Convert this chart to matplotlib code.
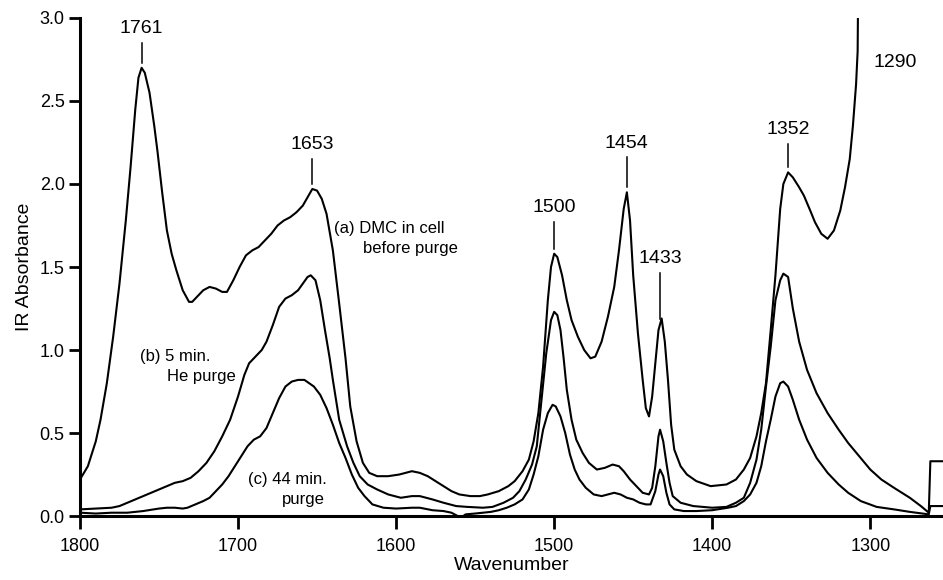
import numpy as np
import matplotlib
matplotlib.use('Agg')
import matplotlib.pyplot as plt

plt.rcParams['font.family'] = ['Liberation Sans', 'DejaVu Sans']

# (a) DMC in cell before purge
wn_a = [1800, 1795, 1790, 1787, 1783, 1779, 1775, 1771, 1768, 1765, 1763, 1761,
        1759, 1756, 1753, 1751, 1748, 1745, 1742, 1739, 1735, 1731, 1729, 1726,
        1722, 1718, 1714, 1710, 1707, 1703, 1699, 1695, 1691, 1687, 1683, 1679,
        1675, 1671, 1667, 1663, 1659, 1656, 1653, 1650, 1647, 1644, 1640, 1636,
        1632, 1629, 1625, 1621, 1617, 1612, 1605, 1598, 1590, 1585, 1580, 1575,
        1570, 1565, 1560, 1553, 1547, 1542, 1535, 1529, 1525, 1520, 1516, 1513,
        1510, 1507, 1504, 1502, 1500, 1498, 1495, 1492, 1489, 1485, 1481, 1477,
        1474, 1470, 1466, 1462, 1459, 1456, 1454, 1452, 1450, 1447, 1444, 1442,
        1440, 1438, 1436, 1434, 1432, 1430, 1428, 1426, 1424, 1420, 1416, 1410,
        1401, 1391, 1385, 1380, 1376, 1372, 1369, 1366, 1363, 1360, 1357, 1355,
        1352, 1349, 1345, 1342, 1338, 1335, 1331, 1327, 1323, 1319, 1316, 1313,
        1311, 1309, 1308, 1307.5]
abs_a = [0.22, 0.30, 0.45, 0.58, 0.80, 1.08, 1.40, 1.78, 2.10, 2.45, 2.64, 2.70,
         2.67, 2.55, 2.35, 2.20, 1.95, 1.72, 1.58, 1.48, 1.36, 1.29, 1.29, 1.32,
         1.36, 1.38, 1.37, 1.35, 1.35, 1.42, 1.50, 1.57, 1.60, 1.62, 1.66, 1.70,
         1.75, 1.78, 1.80, 1.83, 1.87, 1.92, 1.97, 1.96, 1.91, 1.82, 1.60, 1.28,
         0.95, 0.66, 0.45, 0.32, 0.26, 0.24, 0.24, 0.25, 0.27, 0.26, 0.24, 0.21,
         0.18, 0.15, 0.13, 0.12, 0.12, 0.13, 0.15, 0.18, 0.21, 0.27, 0.34, 0.45,
         0.62, 0.90, 1.30, 1.50, 1.58, 1.56, 1.45, 1.30, 1.18, 1.08, 1.00, 0.95,
         0.96, 1.05, 1.20, 1.38, 1.60, 1.85, 1.95, 1.78, 1.45, 1.10, 0.82, 0.65,
         0.60, 0.72, 0.92, 1.12, 1.19, 1.05, 0.82, 0.55, 0.40, 0.30, 0.25, 0.21,
         0.18, 0.19, 0.22, 0.28, 0.35, 0.48, 0.62, 0.80, 1.12, 1.45, 1.85, 2.00,
         2.07, 2.04, 1.98, 1.93, 1.84, 1.77, 1.70, 1.67, 1.72, 1.84, 1.98, 2.15,
         2.35, 2.60, 2.80, 3.40]

# (b) 5 min. He purge
wn_b = [1800, 1790, 1780, 1775, 1770, 1765, 1760, 1755, 1750, 1745, 1740, 1735,
        1730, 1725, 1720, 1715, 1710, 1705, 1700, 1696, 1693, 1689, 1685, 1682,
        1678, 1674, 1670, 1666, 1662, 1659, 1656, 1654, 1651, 1648, 1645, 1642,
        1640, 1636, 1631, 1627, 1623, 1618, 1612, 1605, 1597, 1590, 1585, 1577,
        1570, 1562, 1555, 1545, 1539, 1532, 1526, 1522, 1518, 1514, 1511, 1508,
        1505, 1502, 1500, 1498, 1496, 1494, 1492, 1489, 1486, 1482, 1478, 1473,
        1468, 1463, 1459, 1456, 1452, 1448, 1444, 1440, 1438, 1436, 1434, 1433,
        1431, 1429, 1427, 1425, 1420, 1412, 1400, 1391, 1385, 1380, 1376, 1372,
        1369, 1366, 1363, 1360, 1357, 1355, 1352, 1349, 1345, 1340, 1334, 1327,
        1320, 1314, 1307, 1300, 1293, 1285, 1280, 1275, 1268, 1263, 1262, 1250]
abs_b = [0.04, 0.045, 0.05, 0.06, 0.08, 0.10, 0.12, 0.14, 0.16, 0.18, 0.20, 0.21,
         0.23, 0.27, 0.32, 0.39, 0.48, 0.58, 0.72, 0.85, 0.92, 0.96, 1.00, 1.05,
         1.15, 1.26, 1.31, 1.33, 1.36, 1.40, 1.44, 1.45, 1.42, 1.30, 1.12, 0.95,
         0.82, 0.58, 0.42, 0.32, 0.24, 0.19, 0.16, 0.13, 0.11, 0.12, 0.12, 0.10,
         0.08, 0.06, 0.055, 0.05, 0.055, 0.08, 0.11, 0.15, 0.22, 0.31, 0.42, 0.70,
         0.98, 1.18, 1.23, 1.21, 1.12, 0.95, 0.76, 0.58, 0.46, 0.38, 0.32, 0.28,
         0.29, 0.31, 0.30, 0.27, 0.22, 0.18, 0.14, 0.13, 0.17, 0.30, 0.48, 0.52,
         0.45, 0.32, 0.20, 0.12, 0.08, 0.06, 0.05, 0.055, 0.08, 0.11, 0.20, 0.34,
         0.52, 0.78, 1.02, 1.30, 1.42, 1.46, 1.44, 1.25, 1.05, 0.88, 0.74, 0.62,
         0.52, 0.44, 0.36, 0.28, 0.22, 0.17, 0.14, 0.11, 0.06, 0.02, 0.33, 0.33]

# (c) 44 min. purge
wn_c = [1800, 1790, 1780, 1770, 1760, 1750, 1745, 1740, 1735, 1732, 1727, 1722,
        1718, 1714, 1710, 1706, 1702, 1698, 1694, 1690, 1686, 1682, 1678, 1674,
        1670, 1666, 1662, 1658, 1655, 1652, 1648, 1644, 1640, 1636, 1632, 1628,
        1624, 1620, 1615, 1608, 1600, 1590, 1585, 1577, 1570, 1565, 1561, 1559,
        1556, 1550, 1545, 1540, 1535, 1530, 1525, 1520, 1516, 1513, 1510, 1507,
        1504, 1501, 1499, 1496, 1493, 1490, 1487, 1484, 1480, 1475, 1470, 1466,
        1462, 1458, 1454, 1450, 1446, 1442, 1439, 1436, 1434, 1433, 1431, 1429,
        1427, 1424, 1418, 1410, 1400, 1390, 1385, 1380, 1376, 1372, 1369, 1366,
        1363, 1360, 1357, 1355, 1352, 1349, 1345, 1340, 1334, 1327, 1320, 1314,
        1306, 1296, 1285, 1275, 1263, 1262, 1250]
abs_c = [0.02, 0.015, 0.02, 0.02, 0.03, 0.045, 0.05, 0.05, 0.045, 0.05, 0.07, 0.09,
         0.11, 0.15, 0.19, 0.24, 0.30, 0.36, 0.42, 0.46, 0.48, 0.53, 0.62, 0.71,
         0.78, 0.81, 0.82, 0.82, 0.80, 0.78, 0.73, 0.65, 0.55, 0.44, 0.35, 0.25,
         0.17, 0.12, 0.07, 0.05, 0.045, 0.05, 0.05, 0.035, 0.03, 0.02, 0.0, -0.01,
         0.01, 0.015, 0.02, 0.025, 0.035, 0.05, 0.07, 0.10, 0.16, 0.25, 0.36, 0.52,
         0.62, 0.67, 0.66, 0.60, 0.50, 0.37, 0.28, 0.22, 0.17, 0.13, 0.12, 0.13,
         0.14, 0.13, 0.11, 0.10, 0.08, 0.07, 0.07, 0.15, 0.25, 0.28, 0.24, 0.14,
         0.07, 0.04, 0.03, 0.03, 0.035, 0.05, 0.06, 0.09, 0.13, 0.20, 0.30, 0.45,
         0.58, 0.72, 0.80, 0.81, 0.78, 0.70, 0.58, 0.46, 0.35, 0.26, 0.19, 0.14,
         0.09, 0.055, 0.04, 0.025, 0.01, 0.06, 0.06]

# peak assignments marked on trace (a)
peak_wn = [1761, 1653, 1500, 1454, 1433, 1352]
tick_len = [0.12, 0.15, 0.16, 0.18, 0.28, 0.14]

fig = plt.figure(figsize=(9.43, 5.80), dpi=100)
ax = fig.add_axes([0.0848, 0.1103, 0.9152, 0.8587])

for wn, ab in [(wn_a, abs_a), (wn_b, abs_b), (wn_c, abs_c)]:
    ax.plot(wn, ab, color='black', lw=1.5)

# tick marks and labels above the peaks
for p, tl in zip(peak_wn, tick_len):
    top = np.interp(p, wn_a[::-1], abs_a[::-1]) + 0.03
    ax.plot([p, p], [top, top + tl], color='black', lw=1.1)
    ax.text(p, top + tl + 0.035, str(p), ha='center', va='bottom', fontsize=14)
ax.text(1298, 2.73, '1290', ha='left', va='center', fontsize=14)

# trace labels
ax.text(1639, 1.73, '(a) DMC in cell', ha='left', va='center', fontsize=12)
ax.text(1621, 1.61, 'before purge', ha='left', va='center', fontsize=12)
ax.text(1762, 0.96, '(b) 5 min.', ha='left', va='center', fontsize=12)
ax.text(1745, 0.84, 'He purge', ha='left', va='center', fontsize=12)
ax.text(1694, 0.22, '(c) 44 min.', ha='left', va='center', fontsize=12)
ax.text(1672, 0.10, 'purge', ha='left', va='center', fontsize=12)

ax.set_xlim(1800, 1254)
ax.set_ylim(0, 3.0)
ax.set_xticks([1800, 1700, 1600, 1500, 1400, 1300])
ax.set_yticks(np.arange(0, 3.01, 0.5))
ax.yaxis.set_major_formatter(plt.FormatStrFormatter('%.1f'))

for side in ['top', 'right']:
    ax.spines[side].set_visible(False)
for side in ['left', 'bottom']:
    ax.spines[side].set_linewidth(2.2)
ax.tick_params(axis='both', direction='out', width=2, labelsize=13)
ax.tick_params(axis='y', length=8, pad=3)
ax.tick_params(axis='x', length=9, pad=7)

ax.set_xlabel('Wavenumber', fontsize=14, labelpad=1)
ax.set_ylabel('IR Absorbance', fontsize=14, labelpad=5)

fig.savefig('out.png', dpi=100)
